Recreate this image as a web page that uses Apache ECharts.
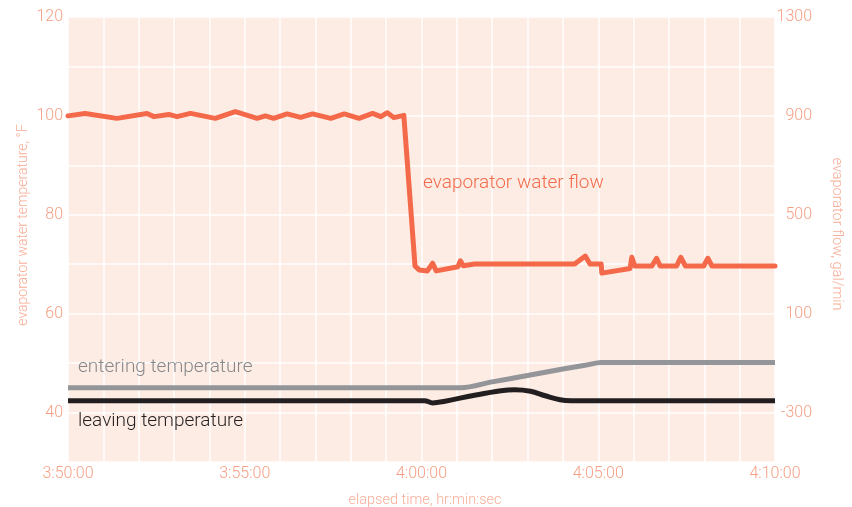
<!DOCTYPE html>
<html>
<head>
<meta charset="utf-8">
<script src="https://cdn.jsdelivr.net/npm/echarts@6/dist/echarts.min.js"></script>
<style>html,body{margin:0;padding:0;background:#fff}#c{width:852px;height:507px}</style>
</head>
<body>
<div id="c"></div>
<script>
// elapsed seconds since 3:50:00
var flowTime  = [0, 29, 83, 134, 146, 171, 185, 208, 250, 284, 321, 335, 349, 372, 395, 415, 446, 469, 494, 517, 531, 542, 553, 570, 589, 596, 610, 619, 625, 662, 666, 671, 690, 860, 878, 886, 905, 906, 954, 957, 962, 991, 999, 1005, 1033, 1040, 1048, 1079, 1086, 1093, 1200];
var flowValue = [900, 910, 890, 910, 897, 906, 897, 910, 890, 917, 890, 900, 890, 908, 894, 908, 890, 908, 890, 910, 897, 913, 893, 902, 293, 277, 273, 304, 273, 290, 314, 294, 301, 301, 333, 301, 301, 264, 283, 328, 293, 293, 324, 293, 293, 328, 293, 293, 324, 293, 293];

var enteringTime  = [0, 667, 720, 780, 840, 880, 905, 1200];
var enteringValue = [45.0, 45.0, 46.2, 47.5, 48.8, 49.6, 50.1, 50.1];

var leavingTime  = [0, 605, 619, 640, 690, 735, 758, 785, 810, 835, 854, 1200];
var leavingValue = [42.4, 42.4, 41.95, 42.3, 43.5, 44.4, 44.6, 44.3, 43.4, 42.6, 42.4, 42.4];

var xTickLabels = {0: '3:50:00', 300: '3:55:00', 600: '4:00:00', 900: '4:05:00', 1200: '4:10:00'};

function pairs(t, v) { return t.map(function (x, i) { return [x, v[i]]; }); }

var salmon = '#F5A086';
var nameColor = '#F7AE98';
var font = 'Roboto, "Liberation Sans", sans-serif';

var chart = echarts.init(document.getElementById('c'), null, {renderer: 'canvas'});
chart.setOption({
  animation: false,
  grid: {left: 68, right: 77, top: 17, bottom: 45, show: true, backgroundColor: '#FDECE4', borderWidth: 0},
  xAxis: {
    type: 'value', min: 0, max: 1200, interval: 60,
    axisLine: {show: false}, axisTick: {show: false},
    splitLine: {show: true, lineStyle: {color: '#ffffff', width: 1.5}},
    axisLabel: {color: salmon, fontSize: 16, fontFamily: font, fontWeight: 300, margin: 4,
      formatter: function (v) { return xTickLabels[v] || ''; }, showMinLabel: true, showMaxLabel: true}
  },
  yAxis: [{
    type: 'value', min: 30, max: 120, interval: 10,
    axisLine: {show: false}, axisTick: {show: false},
    splitLine: {show: true, lineStyle: {color: '#ffffff', width: 1.5}},
    axisLabel: {color: salmon, fontSize: 16, fontFamily: font, fontWeight: 300, margin: 5,
      formatter: function (v) { return v % 20 === 0 ? String(v) : ''; }}
  }, {
    type: 'value', min: -500, max: 1300, interval: 200, position: 'right',
    axisLine: {show: false}, axisTick: {show: false}, splitLine: {show: false},
    axisLabel: {color: salmon, fontSize: 16, fontFamily: font, fontWeight: 300, margin: 37, align: 'right',
      formatter: function (v) { return ((v + 300) % 400 === 0) ? String(v) : ''; }}
  }],
  series: [{
    type: 'line', yAxisIndex: 1, data: pairs(flowTime, flowValue), symbol: 'none',
    lineStyle: {color: '#F4694A', width: 5, join: 'round', cap: 'round'}, z: 3
  }, {
    type: 'line', yAxisIndex: 0, data: pairs(enteringTime, enteringValue), symbol: 'none', smooth: 0.3,
    lineStyle: {color: '#949598', width: 5}, z: 2
  }, {
    type: 'line', yAxisIndex: 0, data: pairs(leavingTime, leavingValue), symbol: 'none', smooth: 0.4,
    lineStyle: {color: '#231F20', width: 5}, z: 2
  }],
  graphic: [
    {type: 'text', z: 100, left: 423, top: 174, style: {text: 'evaporator water flow', fill: '#F26B4C', fontSize: 19, fontFamily: font, fontWeight: 300}},
    {type: 'text', z: 100, left: 78, top: 358, style: {text: 'entering temperature', fill: '#87878A', fontSize: 19, fontFamily: font, fontWeight: 300}},
    {type: 'text', z: 100, left: 78, top: 412, style: {text: 'leaving temperature', fill: '#231F20', fontSize: 19, fontFamily: font, fontWeight: 300}},
    {type: 'text', z: 100, x: 23, y: 225, rotation: Math.PI / 2, style: {text: 'evaporator water temperature, °F', fill: nameColor, fontSize: 14, fontFamily: font, fontWeight: 300, align: 'center', verticalAlign: 'middle'}},
    {type: 'text', z: 100, x: 837, y: 234, rotation: -Math.PI / 2, style: {text: 'evaporator flow, gal/min', fill: nameColor, fontSize: 14.5, fontFamily: font, fontWeight: 300, align: 'center', verticalAlign: 'middle'}},
    {type: 'text', z: 100, x: 425, y: 500, style: {text: 'elapsed time, hr:min:sec', fill: nameColor, fontSize: 14.5, fontFamily: font, fontWeight: 300, align: 'center', verticalAlign: 'middle'}}
  ]
});
</script>
</body>
</html>
